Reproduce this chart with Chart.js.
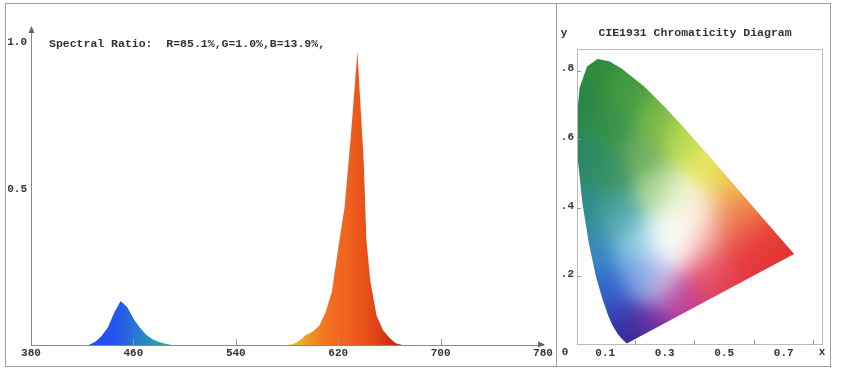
<!DOCTYPE html>
<html>
<head>
<meta charset="utf-8">
<script src="https://cdn.jsdelivr.net/npm/chart.js@4.4.0/dist/chart.umd.min.js"></script>
<style>
  body { margin: 0; background: #fff; width: 841px; height: 374px; position: relative; overflow: hidden; }
  #frame { position: absolute; left: 5px; top: 3px; width: 826px; height: 364px; border: 1px solid #a0a0a0; box-sizing: border-box; }
  #divider { position: absolute; left: 556px; top: 3px; width: 1px; height: 364px; background: #a0a0a0; }
  #specBox { position: absolute; left: 0; top: 0; }
  #cieBox { position: absolute; left: 557px; top: 0; }
</style>
</head>
<body>
<div id="frame"></div>
<div id="divider"></div>
<div id="specBox"><canvas id="spec" width="556" height="374"></canvas></div>
<div id="cieBox"><canvas id="cie" width="273" height="374"></canvas></div>
<script>
  // spectrum (nm -> relative power)
  const specNm  = [380, 425, 430, 435, 440, 445, 450, 455, 460, 465, 470, 475, 480, 485, 490,
                   580, 585, 590, 595, 600, 605, 610, 615, 620, 625, 630, 635, 640, 642, 645, 650, 655, 660, 665, 670, 780];
  const specVal = [0, 0, 0.01, 0.03, 0.06, 0.11, 0.15, 0.13, 0.09, 0.06, 0.035, 0.02, 0.01, 0.004, 0,
                   0, 0.003, 0.015, 0.035, 0.045, 0.065, 0.11, 0.18, 0.33, 0.47, 0.72, 1.0, 0.62, 0.36, 0.22, 0.1, 0.05, 0.025, 0.006, 0, 0];
  const nmTicks = [380, 460, 540, 620, 700, 780];
  const ratioTicks = [0.5, 1.0];
  const ratioText = 'Spectral Ratio:  R=85.1%,G=1.0%,B=13.9%,';

  // colour of the fill along the wavelength axis
  const specStops = [
    [425, 'rgb(40,70,245)'], [445, 'rgb(35,85,240)'], [455, 'rgb(40,100,225)'],
    [465, 'rgb(40,130,200)'], [480, 'rgb(40,160,170)'], [490, 'rgb(60,170,150)'],
    [585, 'rgb(225,195,40)'], [598, 'rgb(240,150,30)'], [610, 'rgb(242,115,35)'],
    [630, 'rgb(238,95,30)'], [645, 'rgb(230,75,25)'], [665, 'rgb(200,40,20)']
  ];

  // CIE 1931 spectral locus
  const locusX = [0.1741, 0.1714, 0.1644, 0.1566, 0.1440, 0.1241, 0.1096, 0.0913, 0.0687, 0.0454, 0.0235, 0.0082,
                  0.0039, 0.0139, 0.0389, 0.0743, 0.1142, 0.1547, 0.2296, 0.3016, 0.3731, 0.4441, 0.5125, 0.5752,
                  0.6270, 0.6915, 0.7190, 0.7347];
  const locusY = [0.0050, 0.0051, 0.0109, 0.0177, 0.0297, 0.0578, 0.0868, 0.1327, 0.2007, 0.2950, 0.4127, 0.5384,
                  0.6548, 0.7502, 0.8120, 0.8338, 0.8262, 0.8059, 0.7543, 0.6923, 0.6245, 0.5547, 0.4866, 0.4242,
                  0.3725, 0.3083, 0.2809, 0.2653];
  const cieXTicks = [0.1, 0.3, 0.5, 0.7];
  const cieXMarks = [0.2, 0.4, 0.6, 0.8];
  const cieYTicks = [0.2, 0.4, 0.6, 0.8];

  // colour samples of the diagram: x, y, r, g, b
  const cieColors = [
    [0.075, 0.83, 45, 140, 60], [0.02, 0.70, 40, 135, 70], [0.18, 0.74, 70, 155, 65],
    [0.28, 0.66, 120, 185, 70], [0.36, 0.60, 190, 220, 85], [0.45, 0.53, 230, 232, 90],
    [0.52, 0.47, 240, 200, 80], [0.58, 0.41, 240, 150, 70], [0.65, 0.33, 232, 65, 55],
    [0.73, 0.265, 225, 50, 48], [0.55, 0.28, 230, 60, 65], [0.45, 0.20, 225, 70, 100],
    [0.60, 0.25, 228, 52, 55], [0.50, 0.22, 228, 58, 72], [0.55, 0.35, 236, 95, 70],
    [0.35, 0.13, 190, 60, 150], [0.25, 0.06, 110, 45, 160], [0.18, 0.01, 55, 35, 145],
    [0.14, 0.06, 50, 60, 180], [0.10, 0.15, 50, 100, 205], [0.06, 0.27, 55, 135, 190],
    [0.03, 0.40, 45, 140, 140], [0.02, 0.55, 40, 135, 100], [0.12, 0.50, 55, 145, 100],
    [0.15, 0.38, 80, 165, 165], [0.20, 0.30, 130, 200, 225], [0.22, 0.20, 100, 150, 225],
    [0.28, 0.19, 215, 200, 240], [0.28, 0.30, 245, 252, 252], [0.34, 0.32, 255, 255, 255],
    [0.40, 0.30, 252, 235, 235], [0.42, 0.38, 250, 240, 220], [0.35, 0.42, 240, 248, 215],
    [0.27, 0.45, 175, 215, 150], [0.22, 0.55, 110, 175, 95], [0.12, 0.63, 55, 145, 75],
    [0.45, 0.27, 242, 140, 140], [0.50, 0.35, 242, 160, 120]
  ];

  const FONT = 'Liberation Mono';
  const tickFont = { family: FONT, size: 11, weight: 'bold' };
  const TXT = '#333';

  function specGradient(context) {
    const chart = context.chart;
    if (!chart.chartArea) return 'rgb(240,100,30)';
    const x = chart.scales.x;
    const x0 = x.getPixelForValue(380), x1 = x.getPixelForValue(780);
    const g = chart.ctx.createLinearGradient(x0, 0, x1, 0);
    specStops.forEach(s => g.addColorStop((s[0] - 380) / 400, s[1]));
    return g;
  }

  function arrow(ctx, x, y, dir) {
    ctx.beginPath();
    if (dir === 'up') { ctx.moveTo(x, y - 2); ctx.lineTo(x - 3, y + 5); ctx.lineTo(x + 3, y + 5); }
    else { ctx.moveTo(x + 2, y); ctx.lineTo(x - 5, y - 3); ctx.lineTo(x - 5, y + 3); }
    ctx.closePath();
    ctx.fill();
  }

  const specDecor = {
    id: 'specDecor',
    afterDraw(chart) {
      const {ctx, chartArea: a, scales: {x}} = chart;
      ctx.save();
      ctx.strokeStyle = '#999';
      ctx.lineWidth = 1;
      nmTicks.slice(1, -1).forEach(v => {
        const px = Math.round(x.getPixelForValue(v)) + 0.5;
        ctx.beginPath(); ctx.moveTo(px, a.bottom); ctx.lineTo(px, a.bottom - 6); ctx.stroke();
      });
      ctx.fillStyle = '#666';
      arrow(ctx, a.left + 0.5, a.top, 'up');
      arrow(ctx, a.right, a.bottom - 0.5, 'right');
      ctx.fillStyle = TXT;
      ctx.font = 'bold 11.5px "' + FONT + '"';
      ctx.textBaseline = 'middle';
      ctx.textAlign = 'left';
      ctx.fillText(ratioText, 49, 44);
      ctx.restore();
    }
  };

  const cieFill = {
    id: 'cieFill',
    beforeDatasetsDraw(chart) {
      const {ctx, chartArea: a, scales: {x, y}} = chart;
      const pts = chart.getDatasetMeta(0).data;
      const w = Math.round(a.right - a.left), h = Math.round(a.bottom - a.top);
      const off = document.createElement('canvas');
      off.width = w; off.height = h;
      const octx = off.getContext('2d');
      const img = octx.createImageData(w, h);
      const s2 = 2 * 0.05 * 0.05;
      for (let j = 0; j < h; j++) {
        const yv = y.getValueForPixel(a.top + j + 0.5);
        for (let i = 0; i < w; i++) {
          const xv = x.getValueForPixel(a.left + i + 0.5);
          let sw = 1e-12, r = 0, g = 0, b = 0;
          for (const c of cieColors) {
            const dx = xv - c[0], dy = yv - c[1];
            const wt = Math.exp(-(dx * dx + dy * dy) / s2);
            sw += wt; r += wt * c[2]; g += wt * c[3]; b += wt * c[4];
          }
          const k = (j * w + i) * 4;
          img.data[k] = r / sw; img.data[k + 1] = g / sw; img.data[k + 2] = b / sw; img.data[k + 3] = 255;
        }
      }
      octx.putImageData(img, 0, 0);
      ctx.save();
      ctx.beginPath();
      pts.forEach((p, i) => i ? ctx.lineTo(p.x, p.y) : ctx.moveTo(p.x, p.y));
      ctx.closePath();
      ctx.clip();
      ctx.drawImage(off, a.left, a.top);
      ctx.restore();
    },
    afterDraw(chart) {
      const {ctx, chartArea: a, scales: {x, y}} = chart;
      ctx.save();
      ctx.strokeStyle = '#bbb';
      ctx.lineWidth = 1;
      ctx.strokeRect(a.left + 0.5, a.top + 0.5, a.right - a.left - 1, a.bottom - a.top - 1);
      ctx.strokeStyle = '#999';
      cieXMarks.forEach(v => {
        const px = Math.round(x.getPixelForValue(v)) + 0.5;
        ctx.beginPath(); ctx.moveTo(px, a.bottom); ctx.lineTo(px, a.bottom - 5); ctx.stroke();
      });
      cieYTicks.forEach(v => {
        const py = Math.round(y.getPixelForValue(v)) + 0.5;
        ctx.beginPath(); ctx.moveTo(a.left, py); ctx.lineTo(a.left + 4, py); ctx.stroke();
      });
      ctx.fillStyle = TXT;
      ctx.font = 'bold 11.5px "' + FONT + '"';
      ctx.textBaseline = 'middle';
      ctx.textAlign = 'center';
      ctx.fillText('CIE1931 Chromaticity Diagram', (a.left + a.right) / 2 - 5, 33);
      ctx.font = 'bold 11px "' + FONT + '"';
      ctx.fillText('y', 7, 33);
      ctx.fillText('0', 8, 352);
      ctx.fillText('x', a.right - 1, 352);
      ctx.restore();
    }
  };

  new Chart(document.getElementById('spec'), {
    type: 'line',
    data: {
      datasets: [{
        data: specNm.map((n, i) => ({x: n, y: specVal[i]})),
        fill: 'origin',
        borderWidth: 0,
        pointRadius: 0,
        tension: 0,
        backgroundColor: specGradient
      }]
    },
    options: {
      responsive: false,
      animation: false,
      layout: { padding: { top: 28, right: 13, bottom: 13, left: 0 } },
      plugins: { legend: { display: false }, tooltip: { enabled: false } },
      scales: {
        x: {
          type: 'linear', min: 380, max: 780,
          afterBuildTicks: s => { s.ticks = nmTicks.map(v => ({value: v})); },
          afterFit: s => { s.height = 16; },
          grid: { display: false, drawTicks: false },
          border: { color: '#888' },
          ticks: { padding: 2, font: tickFont, color: TXT, maxRotation: 0, autoSkip: false }
        },
        y: {
          min: 0, max: 1.08,
          afterBuildTicks: s => { s.ticks = ratioTicks.map(v => ({value: v})); },
          afterFit: s => { s.width = 31; },
          grid: { display: false, drawTicks: false },
          border: { color: '#888' },
          ticks: { padding: 4, labelOffset: -9, font: tickFont, color: TXT, callback: v => v.toFixed(1) }
        }
      }
    },
    plugins: [specDecor]
  });

  new Chart(document.getElementById('cie'), {
    type: 'scatter',
    data: {
      datasets: [{
        data: locusX.map((v, i) => ({x: v, y: locusY[i]})),
        showLine: true,
        borderColor: 'rgba(0,0,0,0.12)',
        borderWidth: 0.5,
        pointRadius: 0
      }]
    },
    options: {
      responsive: false,
      animation: false,
      layout: { padding: { top: 49, right: 7, bottom: 13, left: 0 } },
      plugins: { legend: { display: false }, tooltip: { enabled: false } },
      scales: {
        x: {
          type: 'linear', min: 0.005, max: 0.832,
          afterBuildTicks: s => { s.ticks = cieXTicks.map(v => ({value: v})); },
          afterFit: s => { s.height = 16; },
          grid: { display: false, drawTicks: false },
          border: { display: false },
          ticks: { padding: 2, font: tickFont, color: TXT, maxRotation: 0, autoSkip: false, callback: v => v.toFixed(1) }
        },
        y: {
          min: 0, max: 0.863,
          afterBuildTicks: s => { s.ticks = cieYTicks.map(v => ({value: v})); },
          afterFit: s => { s.width = 20; },
          grid: { display: false, drawTicks: false },
          border: { display: false },
          ticks: { padding: 3, labelOffset: -2, font: tickFont, color: TXT, callback: v => v.toFixed(1).replace(/^0/, '') }
        }
      }
    },
    plugins: [cieFill]
  });
</script>
</body>
</html>
